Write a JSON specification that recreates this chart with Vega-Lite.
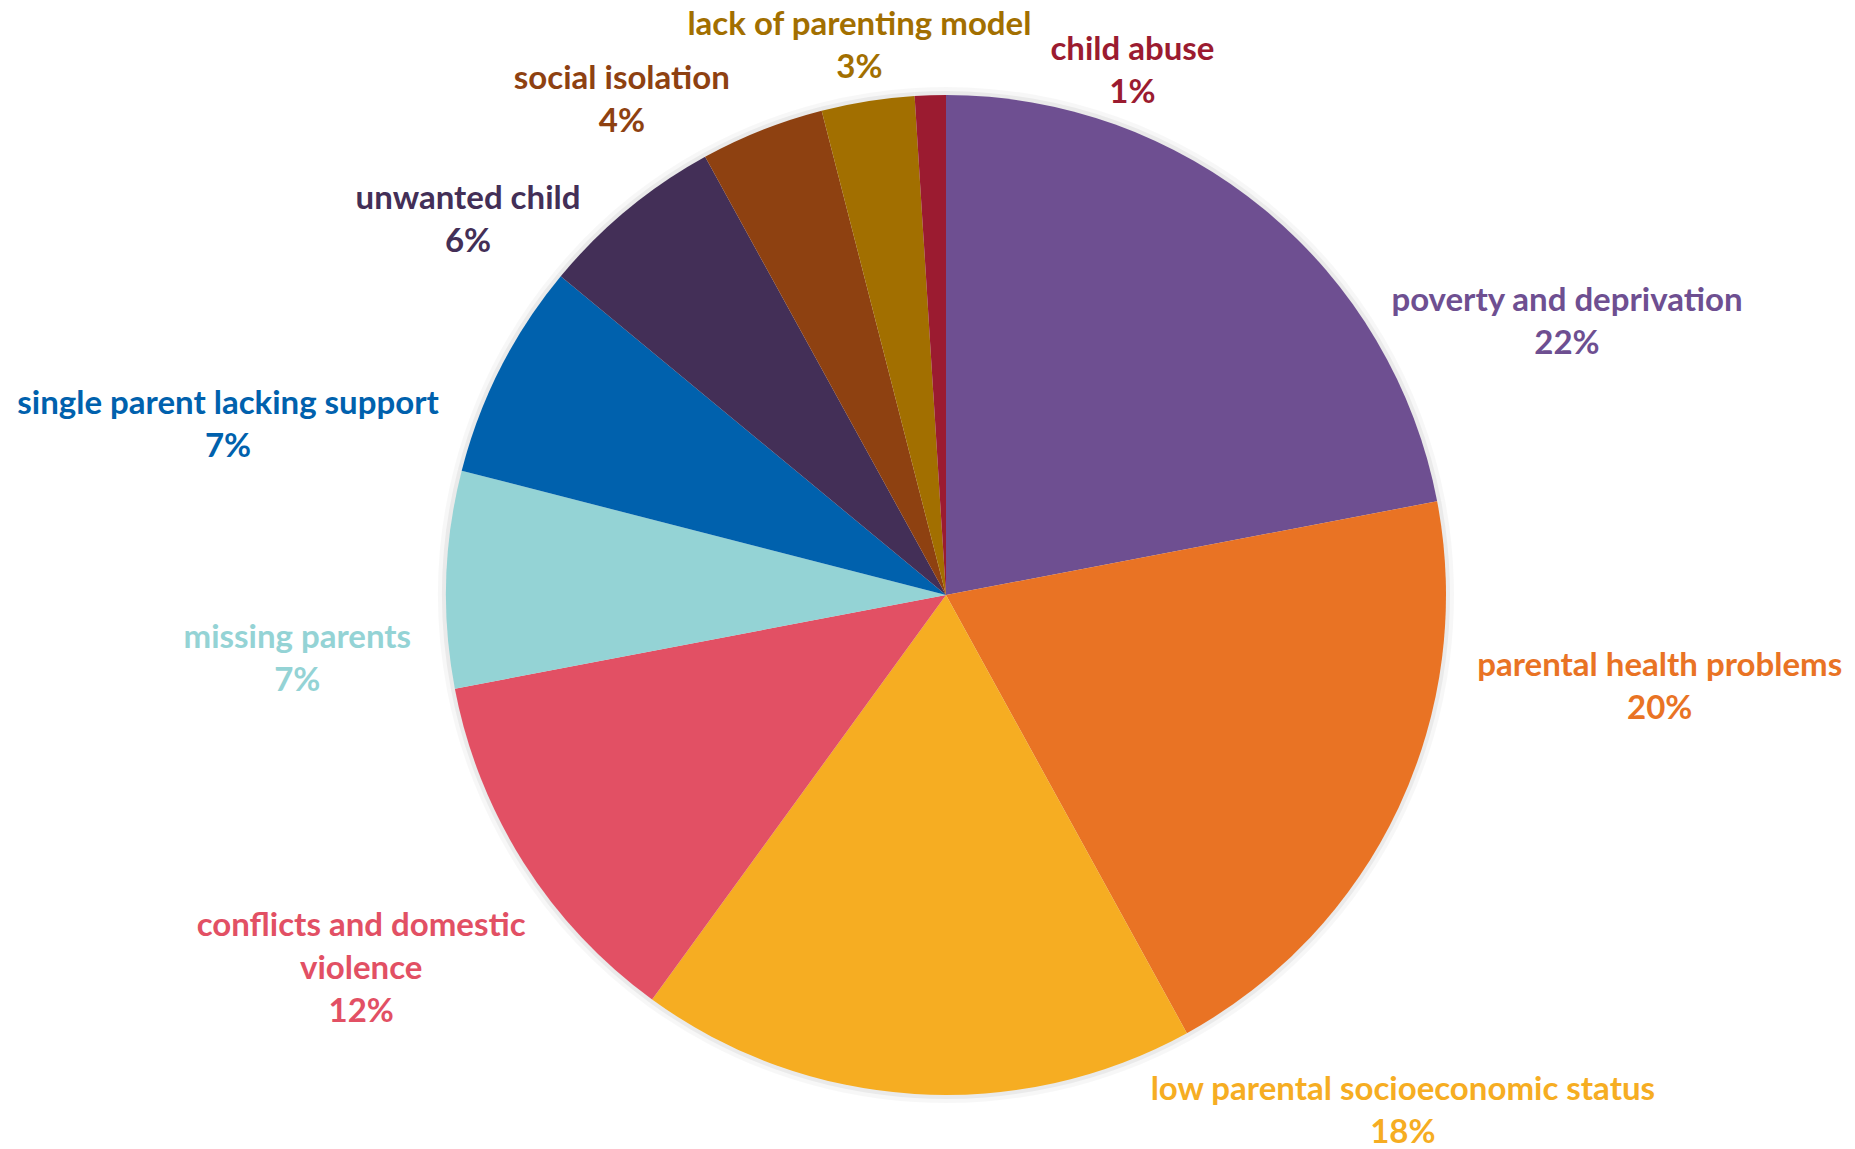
{
  "$schema": "https://vega.github.io/schema/vega-lite/v6.json",
  "width": 1800,
  "height": 1108,
  "autosize": "none",
  "padding": {"left": 46, "top": 41, "right": 0, "bottom": 0},
  "background": "#ffffff",
  "config": {"view": {"stroke": null}},
  "data": {
    "values": [
      {"category": "poverty and deprivation", "pct": 22},
      {"category": "parental health problems", "pct": 20},
      {"category": "low parental socioeconomic status", "pct": 18},
      {"category": "conflicts and domestic violence", "pct": 12},
      {"category": "missing parents", "pct": 7},
      {"category": "single parent lacking support", "pct": 7},
      {"category": "unwanted child", "pct": 6},
      {"category": "social isolation", "pct": 4},
      {"category": "lack of parenting model", "pct": 3},
      {"category": "child abuse", "pct": 1}
    ]
  },
  "transform": [
    {"window": [{"op": "row_number", "as": "idx"}]},
    {"calculate": "replace(datum.category, 'domestic violence', 'domestic\\nviolence') + '\\n' + datum.pct + '%'", "as": "lbl"}
  ],
  "encoding": {
    "theta": {"field": "pct", "type": "quantitative", "stack": true, "scale": {"domain": [0, 100]}},
    "order": {"field": "idx", "type": "quantitative"},
    "color": {
      "field": "category",
      "type": "nominal",
      "legend": null,
      "scale": {
        "domain": ["poverty and deprivation", "parental health problems", "low parental socioeconomic status", "conflicts and domestic violence", "missing parents", "single parent lacking support", "unwanted child", "social isolation", "lack of parenting model", "child abuse"],
        "range": ["#6E4F91", "#E97324", "#F6AD22", "#E25064", "#94D3D5", "#0061AD", "#432F57", "#8E4111", "#A26F00", "#9B1B30"]
      }
    }
  },
  "layer": [
    {"mark": {"type": "arc", "outerRadius": 508, "fill": "#000000", "opacity": 0.03}},
    {"mark": {"type": "arc", "outerRadius": 504, "fill": "#000000", "opacity": 0.05}},
    {"mark": {"type": "arc", "outerRadius": 500}},
    {
      "mark": {
        "type": "text",
        "radius": 560,
        "font": "Lato",
        "fontWeight": "bold",
        "fontSize": 33,
        "lineHeight": 43,
        "lineBreak": "\n",
        "align": "center",
        "baseline": "middle",
        "dx": {"expr": "[264, 207, 492, -112, -89, -219, -121, -118, 1, 204][datum.idx - 1]"},
        "dy": {"expr": "[137, -167, -64, 31, 61, 63, 35, 5, -17, 15][datum.idx - 1]"}
      },
      "encoding": {"text": {"field": "lbl", "type": "nominal"}}
    }
  ]
}
